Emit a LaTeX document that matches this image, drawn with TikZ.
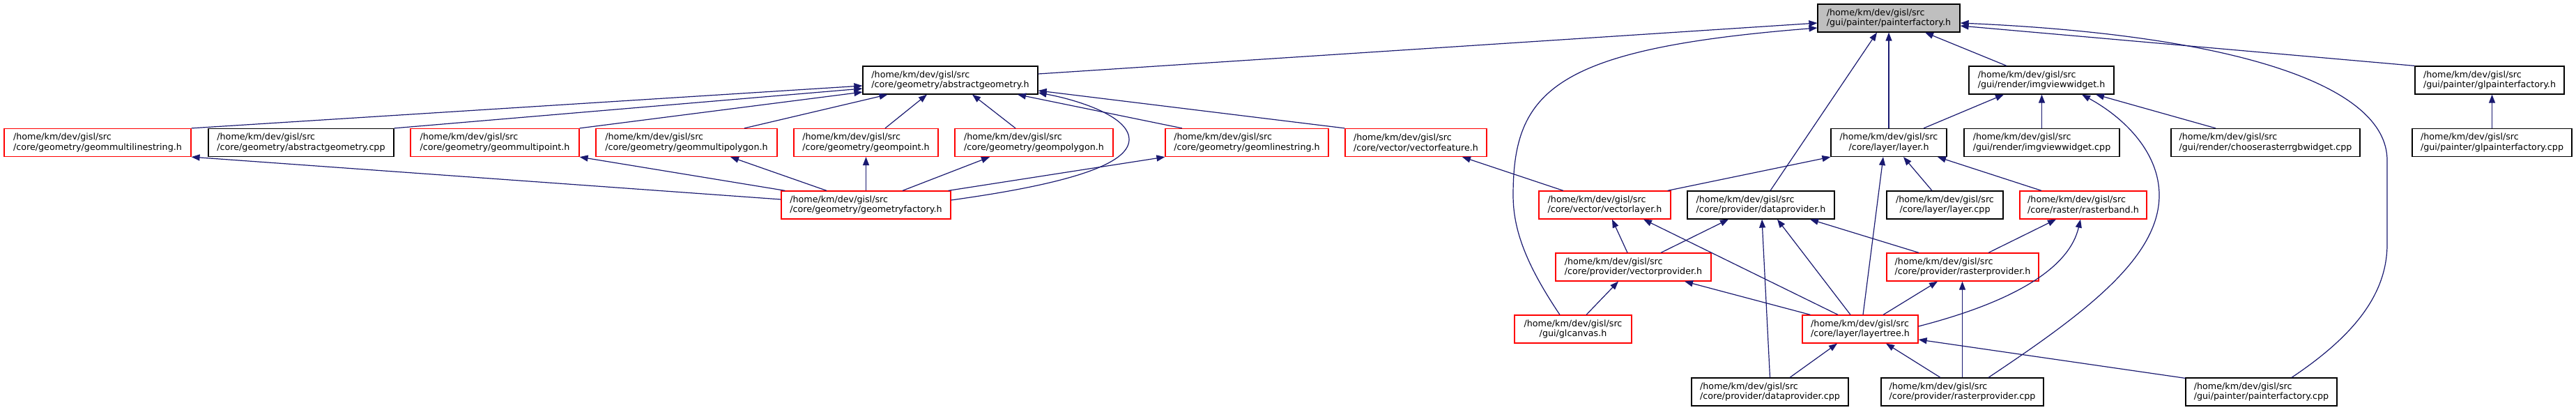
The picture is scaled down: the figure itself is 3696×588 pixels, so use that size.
\documentclass[tikz,border=0pt]{standalone}
\usepackage{fontspec}
\setmainfont{DejaVu Sans}
\usetikzlibrary{arrows.meta,calc}
\definecolor{navyc}{RGB}{25,25,112}
\definecolor{grayfill}{RGB}{191,191,191}
\begin{document}
\begin{tikzpicture}[x=1pt,y=-1pt,
  box/.style={draw=black, line width=1.2pt, rectangle, minimum height=40pt, inner xsep=10pt, inner ysep=2pt, align=left, font=\fontsize{12.7}{14.6}\selectfont, fill=white},
  redbox/.style={box, draw=red},
  ctr/.style={align=center},
  dep/.style={draw=navyc, line width=1.2pt, -{Triangle[length=12pt,width=9pt]}}]
\useasboundingbox (0,0) rectangle (3696,588);
% row 0
\node[box, fill=grayfill, minimum width=204pt] (pf) at (2710,26) {/home/km/dev/gisl/src\\/gui/painter/painterfactory.h};
% row 1
\node[box, minimum width=251pt] (ag) at (1363.5,115) {/home/km/dev/gisl/src\\/core/geometry/abstractgeometry.h};
\node[box, minimum width=208pt] (ivw) at (2929,115) {/home/km/dev/gisl/src\\/gui/render/imgviewwidget.h};
\node[box, minimum width=214pt] (glpf) at (3572,115) {/home/km/dev/gisl/src\\/gui/painter/glpainterfactory.h};
% row 2
\node[redbox, minimum width=268pt] (gmls) at (140,204.5) {/home/km/dev/gisl/src\\/core/geometry/geommultilinestring.h};
\node[box, minimum width=266pt] (agcpp) at (432,204.5) {/home/km/dev/gisl/src\\/core/geometry/abstractgeometry.cpp};
\node[redbox, minimum width=242pt] (gmpt) at (710,204.5) {/home/km/dev/gisl/src\\/core/geometry/geommultipoint.h};
\node[redbox, minimum width=260pt] (gmpg) at (985,204.5) {/home/km/dev/gisl/src\\/core/geometry/geommultipolygon.h};
\node[redbox, minimum width=207pt] (gpt) at (1242.5,204.5) {/home/km/dev/gisl/src\\/core/geometry/geompoint.h};
\node[redbox, minimum width=227pt] (gpg) at (1483.5,204.5) {/home/km/dev/gisl/src\\/core/geometry/geompolygon.h};
\node[redbox, minimum width=234pt] (gls) at (1789,204.5) {/home/km/dev/gisl/src\\/core/geometry/geomlinestring.h};
\node[redbox, minimum width=203pt] (vf) at (2031.5,204.5) {/home/km/dev/gisl/src\\/core/vector/vectorfeature.h};
\node[box, ctr, minimum width=166pt] (layer) at (2710,204.5) {/home/km/dev/gisl/src\\/core/layer/layer.h};
\node[box, minimum width=223pt] (ivwcpp) at (2929.5,204.5) {/home/km/dev/gisl/src\\/gui/render/imgviewwidget.cpp};
\node[box, minimum width=271pt] (crgb) at (3250.5,204.5) {/home/km/dev/gisl/src\\/gui/render/chooserasterrgbwidget.cpp};
\node[box, minimum width=229pt] (glpfcpp) at (3575.5,204.5) {/home/km/dev/gisl/src\\/gui/painter/glpainterfactory.cpp};
% row 3
\node[redbox, minimum width=243pt] (gf) at (1242.5,294) {/home/km/dev/gisl/src\\/core/geometry/geometryfactory.h};
\node[redbox, minimum width=189pt] (vl) at (2302.5,294) {/home/km/dev/gisl/src\\/core/vector/vectorlayer.h};
\node[box, minimum width=211pt] (dp) at (2526.5,294) {/home/km/dev/gisl/src\\/core/provider/dataprovider.h};
\node[box, ctr, minimum width=167pt] (lcpp) at (2790.5,294) {/home/km/dev/gisl/src\\/core/layer/layer.cpp};
\node[redbox, minimum width=182pt] (rb) at (2989,294) {/home/km/dev/gisl/src\\/core/raster/rasterband.h};
% row 4
\node[redbox, minimum width=223pt] (vp) at (2343.5,383) {/home/km/dev/gisl/src\\/core/provider/vectorprovider.h};
\node[redbox, minimum width=218pt] (rp) at (2816,383) {/home/km/dev/gisl/src\\/core/provider/rasterprovider.h};
% row 5
\node[redbox, ctr, minimum width=168pt] (glc) at (2257,472) {/home/km/dev/gisl/src\\/gui/glcanvas.h};
\node[redbox, minimum width=166pt] (lt) at (2669,472) {/home/km/dev/gisl/src\\/core/layer/layertree.h};
% row 6
\node[box, minimum width=225pt] (dpcpp) at (2539.5,562) {/home/km/dev/gisl/src\\/core/provider/dataprovider.cpp};
\node[box, minimum width=233pt] (rpcpp) at (2815.5,562) {/home/km/dev/gisl/src\\/core/provider/rasterprovider.cpp};
\node[box, minimum width=217pt] (pfcpp) at (3244.5,562) {/home/km/dev/gisl/src\\/gui/painter/painterfactory.cpp};

% edges into abstractgeometry.h
\draw[dep] (gmls.north east) -- ($(ag.west)+(0,8)$);
\draw[dep] (agcpp.north east) -- ($(ag.west)+(0,12)$);
\draw[dep] (gmpt.north east) -- ($(ag.west)+(0,17)$);
\draw[dep] ($(gmpg.north)+(83,0)$) -- ($(ag.south)+(-90,0)$);
\draw[dep] ($(gpt.north)+(27.5,0)$) -- ($(ag.south)+(-33.5,0)$);
\draw[dep] ($(gpg.north)+(-26.5,0)$) -- ($(ag.south)+(31.5,0)$);
\draw[dep] ($(gls.north)+(-93,0)$) -- ($(ag.south)+(96.5,0)$);
\draw[dep] (vf.north west) -- ($(ag.east)+(0,15)$);
\draw[dep] ($(gf.east)+(0,-7)$) .. controls (1560,260) and (1620,230) .. (1620,200) .. controls (1620,165) and (1540,142) .. ($(ag.east)+(0,18)$);
% edges into painterfactory.h
\draw[dep] ($(ag.east)+(0,-9)$) -- ($(pf.west)+(0,7)$);
\draw[dep] ($(glc.north)+(-19,0)$) .. controls (2190,380) and (2171,330) .. (2171,280) .. controls (2171,130) and (2230,70) .. ($(pf.west)+(0,14)$);
\draw[dep] ($(dp.north)+(13.5,0)$) -- ($(pf.south)+(-17,0)$);
\draw[dep] (layer.north) -- (pf.south);
\draw[dep] ($(ivw.north)+(-50,0)$) -- ($(pf.south)+(52,0)$);
\draw[dep] (glpf.north west) -- ($(pf.east)+(0,11)$);
\draw[dep] ($(pfcpp.north)+(43.5,0)$) .. controls (3380,480) and (3425,420) .. (3425,350) -- (3425,230) .. controls (3425,120) and (3200,50) .. ($(pf.east)+(0,7)$);
% edges into imgviewwidget.h
\draw[dep] ($(layer.north)+(50,0)$) -- ($(ivw.south)+(-54,0)$);
\draw[dep] (ivwcpp.north) -- (ivwcpp.north |- ivw.south);
\draw[dep] ($(crgb.north)+(-71.5,0)$) -- ($(ivw.south)+(78,0)$);
\draw[dep] ($(rpcpp.north)+(37.5,0)$) .. controls (2990,450) and (3098,370) .. (3098,280) .. controls (3098,220) and (3050,170) .. ($(ivw.south)+(58,0)$);
% glpainterfactory
\draw[dep] (glpfcpp.north) -- (glpfcpp.north |- glpf.south);
% vectorfeature, layer
\draw[dep] ($(vl.north)+(-59.5,0)$) -- ($(vf.south)+(66.5,0)$);
\draw[dep] ($(vl.north east)+(-5,0)$) -- (layer.south west);
\draw[dep] ($(lcpp.north)+(-18.5,0)$) -- ($(layer.south)+(21,0)$);
\draw[dep] ($(rb.north)+(-60,0)$) -- ($(layer.south)+(70,0)$);
\draw[dep] ($(lt.north)+(4,0)$) -- ($(layer.south)+(-8,0)$);
% geometryfactory
\draw[dep] ($(gf.west)+(0,-8)$) -- (gmls.south east);
\draw[dep] ($(gf.north west)+(6,0)$) -- (gmpt.south east);
\draw[dep] ($(gf.north)+(-56.5,0)$) -- ($(gmpg.south)+(63,0)$);
\draw[dep] (gf.north) -- (gpt.south);
\draw[dep] ($(gf.north)+(52.5,0)$) -- ($(gpg.south)+(-63.5,0)$);
\draw[dep] ($(gf.north east)+(-4,0)$) -- (gls.south west);
% dataprovider.h
\draw[dep] ($(vp.north)+(39.5,0)$) -- ($(dp.south)+(-46.5,0)$);
\draw[dep] (dpcpp.north) -- ($(dp.south)+(1.5,0)$);
\draw[dep] ($(lt.north)+(-14,0)$) -- ($(dp.south)+(23.5,0)$);
\draw[dep] ($(rp.north)+(-63,0)$) -- ($(dp.south)+(70.5,0)$);
% vectorlayer.h
\draw[dep] ($(vp.north)+(-8.5,0)$) -- ($(vl.south)+(10.5,0)$);
\draw[dep] ($(lt.north)+(-32,0)$) -- ($(vl.south)+(55.5,0)$);
% vectorprovider.h
\draw[dep] ($(glc.north)+(19,0)$) -- ($(vp.south)+(-21.5,0)$);
\draw[dep] ($(lt.north west)+(12,0)$) -- ($(vp.south)+(73.5,0)$);
% rasterprovider.h, rasterband.h
\draw[dep] ($(lt.north)+(33,0)$) -- ($(rp.south)+(-36,0)$);
\draw[dep] ($(rp.north)+(37,0)$) -- ($(rb.south)+(-39,0)$);
\draw[dep] ($(lt.east)+(0,-4)$) .. controls (2900,430) and (2970,380) .. ($(rb.south)+(-4,0)$);
\draw[dep] (rpcpp.north) -- (rpcpp.north |- rp.south);
% layertree.h
\draw[dep] ($(dpcpp.north)+(28.5,0)$) -- ($(lt.south)+(-33,0)$);
\draw[dep] ($(rpcpp.north)+(-31.5,0)$) -- ($(lt.south)+(37,0)$);
\draw[dep] ($(pfcpp.north west)+(0,1)$) -- ($(lt.east)+(0,15)$);
\end{tikzpicture}
\end{document}
